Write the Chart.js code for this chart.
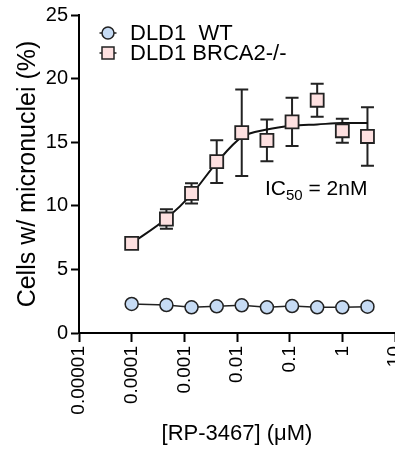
<!DOCTYPE html>
<html>
<head>
<meta charset="utf-8">
<script src="https://cdn.jsdelivr.net/npm/chart.js@4.4.1/dist/chart.umd.min.js"></script>
<style>
  html, body { margin: 0; padding: 0; background: #fff; }
  #wrap { width: 395px; height: 450px; overflow: hidden; }
  #wrap canvas { display: block; }
</style>
</head>
<body>
<div id="wrap"><canvas id="chart" width="420" height="450"></canvas></div>
<script>
// doses in uM (3-fold dilutions, lowest point at 1e-4)
const doses = [0.0001, 0.000457, 0.00137, 0.00412, 0.0123, 0.037, 0.111, 0.333, 1, 3];
const wtValues = [2.28, 2.2, 2.02, 2.1, 2.18, 2.02, 2.12, 2.02, 2.02, 2.07];
const brcaValues = [7.05, 8.96, 10.98, 13.47, 15.75, 15.15, 16.6, 18.3, 15.9, 15.45];
const brcaErrors = [0.3, 0.76, 0.79, 1.68, 3.4, 1.64, 1.9, 1.3, 0.95, 2.3];
// fitted curve at each dose
const fitValues = [7.05, 9.0, 10.9, 13.4, 15.4, 16.0, 16.3, 16.4, 16.5, 16.5];
const xTickValues = [0.00001, 0.0001, 0.001, 0.01, 0.1, 1, 10];
const xTickLabels = ['0.00001', '0.0001', '0.001', '0.01', '0.1', '1', '10'];
const seriesNames = ['DLD1  WT', 'DLD1 BRCA2-/-'];

const FONT = "'Liberation Sans', Arial, sans-serif";

function pts(ys) {
    return doses.map(function(d, i) { return {x: d, y: ys[i]}; });
}

const errorBars = {
    id: 'errorBars',
    beforeDatasetsDraw(chart) {
        const ctx = chart.ctx;
        const xs = chart.scales.x, ys = chart.scales.y;
        ctx.save();
        ctx.strokeStyle = '#222';
        ctx.lineWidth = 2;
        for (let i = 0; i < doses.length; i++) {
            const px = xs.getPixelForValue(doses[i]);
            const top = ys.getPixelForValue(brcaValues[i] + brcaErrors[i]);
            const bot = ys.getPixelForValue(brcaValues[i] - brcaErrors[i]);
            ctx.beginPath();
            ctx.moveTo(px, top); ctx.lineTo(px, bot);
            ctx.moveTo(px - 6.5, top); ctx.lineTo(px + 6.5, top);
            ctx.moveTo(px - 6.5, bot); ctx.lineTo(px + 6.5, bot);
            ctx.stroke();
        }
        ctx.restore();
    }
};

const extras = {
    id: 'extras',
    afterDraw(chart) {
        const ctx = chart.ctx;
        ctx.save();
        // legend inside plot
        const rows = [chart.data.datasets[0], chart.data.datasets[1]];
        rows.forEach(function(ds, i) {
            const cy = 33 + i * 20;
            const cx = 108;
            ctx.strokeStyle = '#222';
            ctx.lineWidth = 1.5;
            ctx.beginPath();
            ctx.moveTo(cx - 8.5, cy); ctx.lineTo(cx + 8.5, cy);
            ctx.stroke();
            ctx.fillStyle = ds.backgroundColor;
            ctx.beginPath();
            if (ds.pointStyle === 'rect') {
                ctx.rect(cx - 6, cy - 6, 12, 12);
            } else {
                ctx.arc(cx, cy, 6, 0, Math.PI * 2);
            }
            ctx.fill();
            ctx.stroke();
            ctx.fillStyle = '#000';
            ctx.font = '22px ' + FONT;
            ctx.textBaseline = 'middle';
            ctx.textAlign = 'left';
            ctx.fillText(ds.label, 130, cy + 1);
        });
        // IC50 note
        ctx.fillStyle = '#000';
        ctx.textBaseline = 'alphabetic';
        ctx.font = '21px ' + FONT;
        let x = 265;
        ctx.fillText('IC', x, 195);
        x += ctx.measureText('IC').width;
        ctx.font = '15px ' + FONT;
        ctx.fillText('50', x, 200);
        x += ctx.measureText('50').width;
        ctx.font = '21px ' + FONT;
        ctx.fillText(' = 2nM', x, 195);
        ctx.restore();
    }
};

new Chart(document.getElementById('chart'), {
    type: 'scatter',
    data: {
        datasets: [
            {
                label: seriesNames[0],
                data: pts(wtValues),
                showLine: true,
                borderColor: '#222',
                borderWidth: 1.5,
                backgroundColor: '#c6dbf4',
                pointBackgroundColor: '#c6dbf4',
                pointBorderColor: '#222',
                pointBorderWidth: 1.5,
                pointStyle: 'circle',
                pointRadius: 6.5,
                order: 0
            },
            {
                label: seriesNames[1],
                data: pts(brcaValues),
                showLine: false,
                backgroundColor: '#fde0e0',
                pointBackgroundColor: '#fde0e0',
                pointBorderColor: '#222',
                pointBorderWidth: 1.8,
                pointStyle: 'rect',
                pointRadius: 9.2,
                order: 0
            },
            {
                label: 'fit',
                data: pts(fitValues),
                showLine: true,
                borderColor: '#111',
                borderWidth: 2,
                pointRadius: 0,
                cubicInterpolationMode: 'monotone',
                order: 5
            }
        ]
    },
    options: {
        responsive: false,
        animation: false,
        devicePixelRatio: 1,
        layout: { padding: { top: 15, right: 25, left: 0, bottom: 0 } },
        plugins: { legend: { display: false }, tooltip: { enabled: false } },
        scales: {
            x: {
                type: 'logarithmic',
                min: 0.00001,
                max: 10,
                afterBuildTicks: function(scale) {
                    scale.ticks = xTickValues.map(function(v) { return {value: v}; });
                },
                afterFit: function(scale) {
                    scale.height = 117;
                    scale.paddingLeft = 0;
                    scale.paddingRight = 0;
                },
                ticks: {
                    autoSkip: false,
                    minRotation: 90,
                    maxRotation: 90,
                    padding: 4,
                    color: '#000',
                    font: { family: FONT, size: 19 },
                    callback: function(value, index) { return xTickLabels[index]; }
                },
                grid: {
                    drawOnChartArea: false,
                    drawTicks: true,
                    tickLength: 9,
                    tickColor: '#000',
                    tickWidth: 2
                },
                border: { display: true, color: '#000', width: 2 },
                title: {
                    display: true,
                    text: '[RP-3467] (\u03bcM)',
                    color: '#000',
                    font: { family: FONT, size: 22 },
                    padding: { top: 0, bottom: 3 }
                }
            },
            y: {
                min: 0,
                max: 25,
                afterFit: function(scale) {
                    scale.width = 79;
                    scale.paddingTop = 0;
                    scale.paddingBottom = 0;
                },
                ticks: {
                    stepSize: 5,
                    padding: 3,
                    color: '#000',
                    font: { family: FONT, size: 20 }
                },
                grid: {
                    drawOnChartArea: false,
                    drawTicks: true,
                    tickLength: 8,
                    tickColor: '#000',
                    tickWidth: 2
                },
                border: { display: true, color: '#000', width: 2 },
                title: {
                    display: true,
                    text: 'Cells w/ micronuclei (%)',
                    color: '#000',
                    font: { family: FONT, size: 25 },
                    padding: { top: 13, bottom: 0 }
                }
            }
        }
    },
    plugins: [errorBars, extras]
});
</script>
</body>
</html>
